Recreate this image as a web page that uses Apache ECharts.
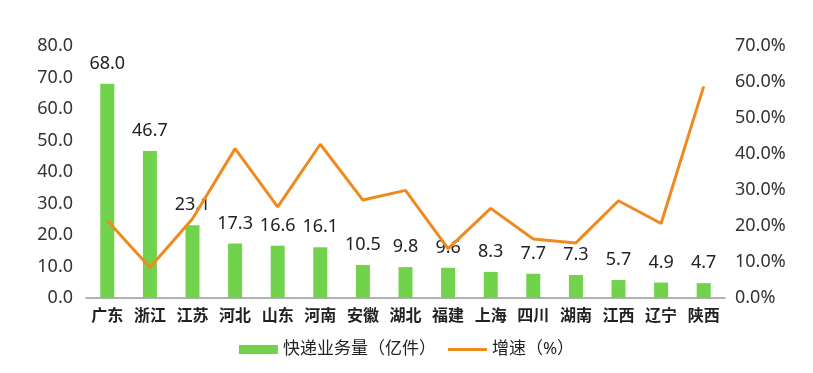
<!DOCTYPE html>
<html><head><meta charset="utf-8">
<script src="https://cdn.jsdelivr.net/npm/echarts@6/dist/echarts.min.js"></script>
<style>html,body{margin:0;padding:0;background:#fff}#c{width:813px;height:373px}</style>
</head><body><div id="c"></div>
<script>
const categories = ['广东','浙江','江苏','河北','山东','河南','安徽','湖北','福建','上海','四川','湖南','江西','辽宁','陕西'];
const volume = [68.0,46.7,23.1,17.3,16.6,16.1,10.5,9.8,9.6,8.3,7.7,7.3,5.7,4.9,4.7];
const growth = [21.5,8.5,22.0,41.5,25.3,42.7,27.2,29.9,13.7,24.9,16.4,15.3,27.0,20.7,58.8];
const seriesNames = ['快递业务量（亿件）','增速（%）'];
const font = '"Noto Sans","Noto Sans CJK SC",sans-serif';
const chart = echarts.init(document.getElementById('c'));
chart.setOption({
  animation:false,
  textStyle:{fontFamily:font},
  grid:{left:86,right:88,top:46,bottom:75},
  legend:{bottom:10,left:'center',itemWidth:39,itemHeight:9,itemGap:12,
    textStyle:{fontSize:17,color:'#222',fontFamily:font},
    data:[{name:seriesNames[0],icon:'rect'},
          {name:seriesNames[1],icon:'path://M0,3H39V6H0Z M0,0H0.05V0.05H0Z M0,8.95H0.05V9H0Z'}]},
  xAxis:{type:'category',data:categories,
    axisLine:{lineStyle:{color:'#999',width:1.5}},axisTick:{show:false},
    axisLabel:{fontSize:16,color:'#222',fontWeight:'bold',margin:10,interval:0}},
  yAxis:[
    {type:'value',min:0,max:80,interval:10,splitLine:{show:false},axisLine:{show:false},axisTick:{show:false},
     axisLabel:{fontSize:18,color:'#333',margin:13,formatter:v=>v.toFixed(1)}},
    {type:'value',min:0,max:70,interval:10,splitLine:{show:false},axisLine:{show:false},axisTick:{show:false},
     axisLabel:{fontSize:18,color:'#333',margin:10,formatter:v=>v.toFixed(1)+'%'}}
  ],
  series:[
    {name:seriesNames[0],type:'bar',data:volume,barWidth:14,yAxisIndex:0,z:2,
     itemStyle:{color:'#71D24B'},
     label:{show:true,position:'top',distance:11,fontSize:18,color:'#222',formatter:p=>p.value.toFixed(1)}},
    {name:seriesNames[1],type:'line',data:growth,yAxisIndex:1,symbol:'none',z:3,
     lineStyle:{color:'#EF8A1F',width:3},itemStyle:{color:'#EF8A1F'}}
  ]
});
</script></body></html>
